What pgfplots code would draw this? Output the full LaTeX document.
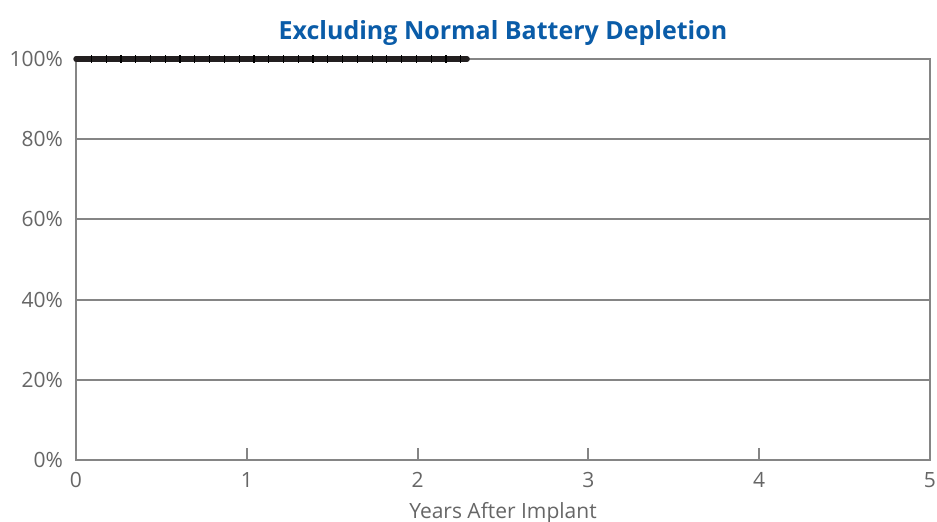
\documentclass[border=0pt]{standalone}
\usepackage{pgfplots}
\pgfplotsset{compat=1.18}
\usepackage{fontspec}
\setmainfont{Open Sans}
\definecolor{titleblue}{HTML}{0A5CA8}
\definecolor{txtgray}{HTML}{666666}
\definecolor{gridgray}{HTML}{858585}
\definecolor{linek}{HTML}{231F20}
\begin{document}
\begin{tikzpicture}
\begin{axis}[
  at={(0,0)}, anchor=south west,
  scale only axis, width=427pt, height=200.5pt,
  xmin=0, xmax=5, ymin=0, ymax=100,
  xtick={0,1,2,3,4,5},
  ytick={0,20,40,60,80,100},
  yticklabel={\pgfmathprintnumber{\tick}\%},
  /pgf/number format/assume math mode=true,
  ymajorgrids,
  grid style={gridgray, line width=1pt},
  axis line style={gridgray, line width=1.4pt},
  tick style={gridgray, line width=1pt},
  xtick pos=bottom, ytick pos=left,
  major tick length=6pt,
  xtick align=inside,
  ytick style={draw=none},
  tick label style={font=\fontsize{10.5}{12}\selectfont, text=txtgray},
  xticklabel style={yshift=-2.5pt},
  yticklabel style={xshift=-3pt},
  xlabel={Years After Implant},
  xlabel style={font=\fontsize{10.5}{12}\selectfont, text=txtgray, yshift=-0.8pt},
  title={\textbf{Excluding Normal Battery Depletion}},
  title style={font=\fontsize{12.5}{14}\selectfont, text=titleblue, yshift=-3pt},
  clip=false,
]
\addplot[linek, line width=2.7pt, line cap=round] coordinates {(0,100) (2.29,100)};
\addplot[only marks, mark=|, mark size=1.8pt, mark options={line width=0.6pt, black}] coordinates {
(0.090,100) (0.177,100) (0.263,100) (0.350,100) (0.436,100) (0.523,100)
(0.609,100) (0.696,100) (0.782,100) (0.869,100) (0.955,100) (1.042,100)
(1.128,100) (1.215,100) (1.301,100) (1.388,100) (1.474,100) (1.561,100)
(1.647,100) (1.734,100) (1.820,100) (1.907,100) (1.993,100) (2.080,100)
(2.166,100) (2.253,100)
};
\end{axis}
\pgfresetboundingbox
\path[use as bounding box] (-38pt,-30.5pt) rectangle (430.5pt,230pt);
\end{tikzpicture}
\end{document}
